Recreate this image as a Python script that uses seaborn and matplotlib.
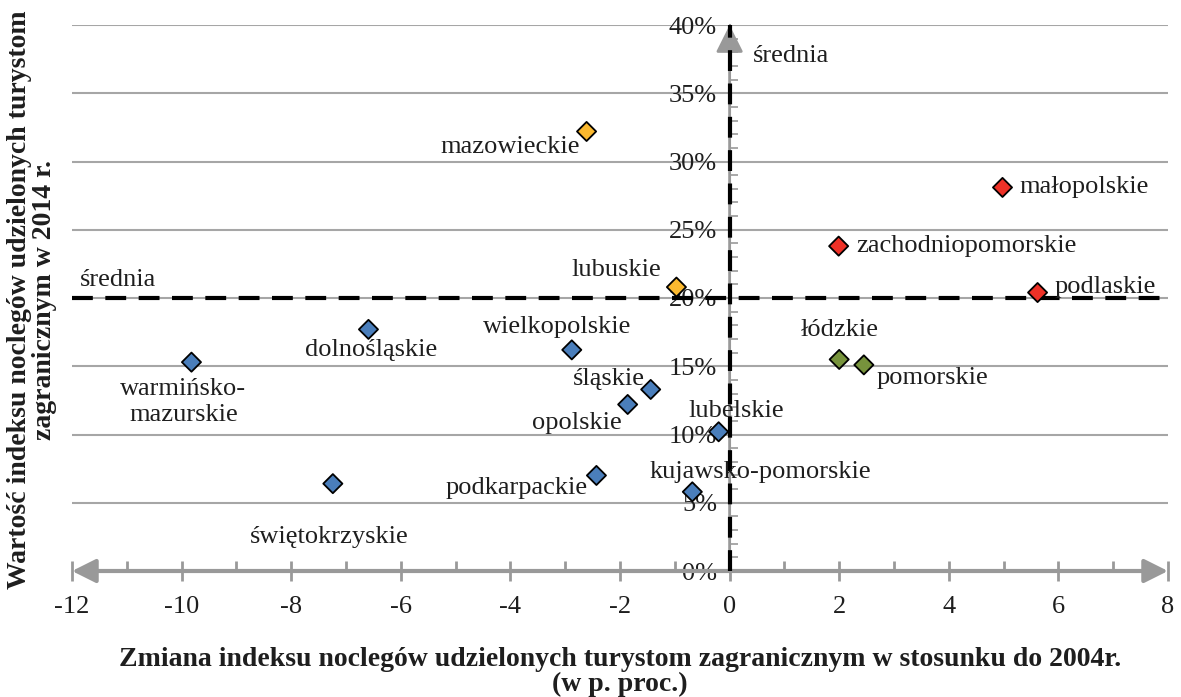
import matplotlib
matplotlib.use("Agg")
import matplotlib.pyplot as plt
import matplotlib.ticker as mticker
import seaborn as sns
import pandas as pd

# Regions: change of the foreign-tourist overnight-stay index vs 2004 (pp) and its 2014 value (%)
regions = ["mazowieckie", "małopolskie", "zachodniopomorskie", "lubuskie", "podlaskie",
           "dolnośląskie", "warmińsko-\nmazurskie", "wielkopolskie", "łódzkie", "pomorskie",
           "śląskie", "opolskie", "lubelskie", "podkarpackie", "kujawsko-pomorskie",
           "świętokrzyskie"]
change_pp = [-2.61, 4.98, 1.99, -0.97, 5.62, -6.59, -9.82, -2.88, 2.00, 2.45,
             -1.44, -1.86, -0.20, -2.43, -0.68, -7.24]
index_2014 = [32.2, 28.1, 23.8, 20.8, 20.4, 17.7, 15.3, 16.2, 15.5, 15.1,
              13.3, 12.2, 10.2, 7.0, 5.8, 6.4]
groups = ["B", "A", "A", "B", "A", "D", "D", "D", "C", "C",
          "D", "D", "D", "D", "D", "D"]
group_colors = {"A": "#EE3127", "B": "#FBB92F", "C": "#77933C", "D": "#4A7EBB"}

# Averages marked with dashed reference lines
mean_x = 0.0
mean_y = 20.0

x_limits = (-12, 8)
y_limits = (0, 40)
x_ticks = list(range(-12, 9, 2))
y_ticks = list(range(0, 41, 5))
y_tick_labels = [f"{v}%" for v in y_ticks]

# Label placement (offset in pixels, horizontal alignment)
label_offsets = [(-7, -16, "right"), (17, 0, "left"), (18, 0, "left"), (-15, 17, "right"),
                 (17, 6, "left"), (3, -21, "center"), (-8, -40, "center"), (-15, 23, "center"),
                 (0, 29, "center"), (13, -13, "left"), (-6, 10, "right"), (-6, -19, "right"),
                 (18, 21, "center"), (-9, -13, "right"), (68, 20, "center"), (-4, -53, "center")]

df = pd.DataFrame({"region": regions, "x": change_pp, "y": index_2014, "grp": groups})

sns.set_style("white")
plt.rcParams["font.family"] = ["Liberation Serif", "DejaVu Serif"]
plt.rcParams["font.size"] = 19
plt.rcParams["axes.unicode_minus"] = False

fig = plt.figure(figsize=(11.81, 6.97), dpi=100)
ax = fig.add_axes([72 / 1181, 1 - 571 / 697, (1168 - 72) / 1181, (571 - 25) / 697])
ax.set_xlim(*x_limits)
ax.set_ylim(*y_limits)

grid_gray = "#A6A6A6"
axis_gray = "#999999"
text_color = "#1E1E1E"

# Horizontal gridlines
for v in y_ticks[1:]:
    ax.axhline(v, color=grid_gray, lw=1.5, zorder=0)

# Axis spines with arrowheads
for s in ["top", "right", "bottom"]:
    ax.spines[s].set_visible(False)
ax.spines["left"].set_position(("data", 0))
ax.spines["left"].set_color(axis_gray)
ax.spines["left"].set_linewidth(1.5)
ax.annotate("", xy=(x_limits[0], 0), xytext=(x_limits[1], 0), xycoords="data",
            arrowprops=dict(arrowstyle="<|-|>", color=axis_gray, lw=3,
                            mutation_scale=36, shrinkA=0, shrinkB=0), zorder=2,
            annotation_clip=False)
ax.annotate("", xy=(0, y_limits[1]), xytext=(0, y_limits[0]), xycoords="data",
            arrowprops=dict(arrowstyle="-|>", color=axis_gray, lw=2,
                            mutation_scale=42, shrinkA=0, shrinkB=0), zorder=2,
            annotation_clip=False)

# Dashed average lines
ax.axhline(mean_y, color="black", lw=3, ls=(0, (5, 3)), zorder=3)
ax.axvline(mean_x, color="black", lw=3, ls=(0, (5, 3)), zorder=3)

sns.scatterplot(data=df, x="x", y="y", hue="grp", palette=group_colors, marker="D",
                s=95, edgecolor="black", linewidth=1.3, legend=False, ax=ax, zorder=5)

for name, x, y, (dx, dy, ha) in zip(regions, change_pp, index_2014, label_offsets):
    ax.annotate(name, xy=(x, y), xytext=(dx, dy), textcoords="offset pixels",
                ha=ha, va="center", fontsize=19, color=text_color,
                multialignment="center", linespacing=1.2, zorder=6)

ax.text(0.42, 37.7, "średnia", ha="left", va="center", fontsize=19, color=text_color)
ax.text(-11.85, 21.3, "średnia", ha="left", va="center", fontsize=19, color=text_color)

ax.set_xticks(x_ticks)
ax.set_xticks(range(-12, 9), minor=True)
ax.set_yticks(y_ticks)
ax.set_yticklabels(y_tick_labels)
ax.yaxis.set_minor_locator(mticker.MultipleLocator(1))
ax.tick_params(axis="x", which="major", direction="inout", length=14, width=2,
               color=axis_gray, pad=11, labelsize=19, labelcolor=text_color, bottom=True)
ax.tick_params(axis="x", which="minor", direction="in", length=7, width=2,
               color=axis_gray, bottom=True)
ax.tick_params(axis="y", which="major", direction="in", length=0, pad=9, labelsize=19,
               labelcolor=text_color, left=True)
ax.tick_params(axis="y", which="minor", direction="in", length=6, width=1.2,
               color=axis_gray, left=True)
ax.set_xlabel("")
ax.set_ylabel("")

fig.text(620 / 1181, 1 - 672 / 697,
         "Zmiana indeksu noclegów udzielonych turystom zagranicznym w stosunku do 2004r.\n(w p. proc.)",
         ha="center", va="center", fontsize=20, fontweight="bold", linespacing=1.02,
         color=text_color)
fig.text(32 / 1181, 1 - 300 / 697,
         "Wartość indeksu noclegów udzielonych turystom\nzagranicznym w 2014 r.",
         ha="center", va="center", rotation=90, fontsize=20, fontweight="bold",
         linespacing=1.05, color=text_color)

fig.savefig("out.png", dpi=100)
